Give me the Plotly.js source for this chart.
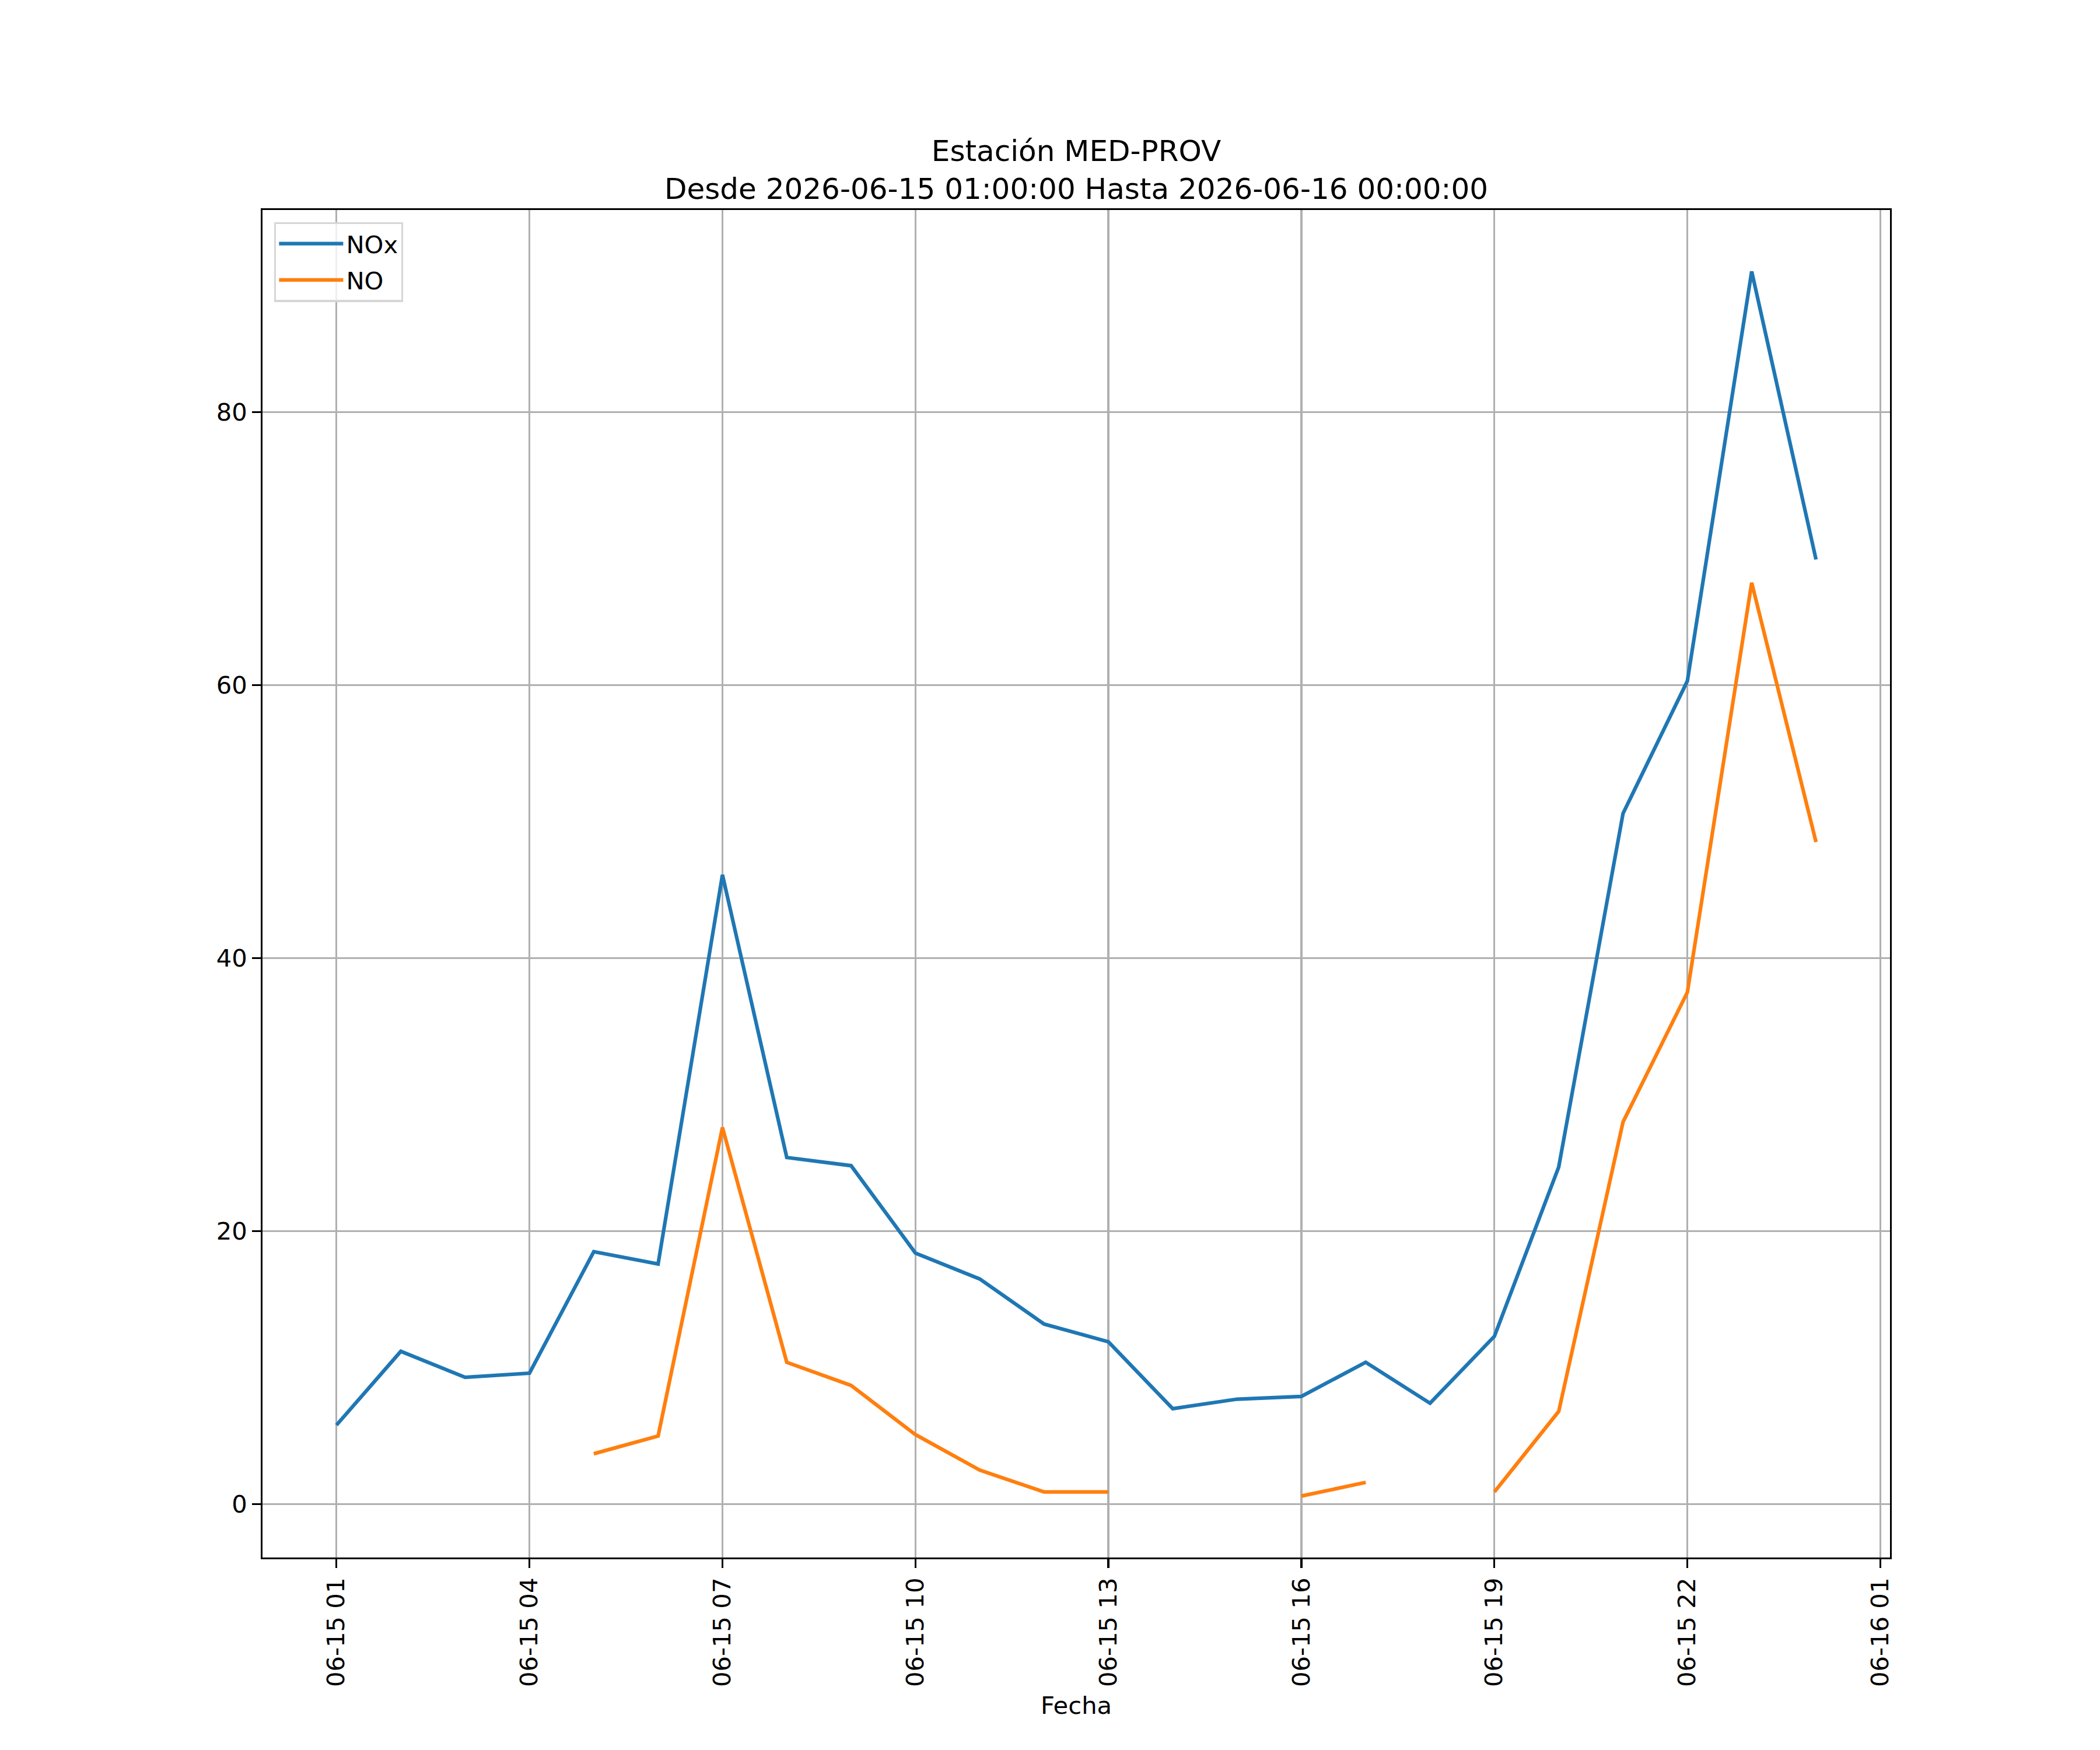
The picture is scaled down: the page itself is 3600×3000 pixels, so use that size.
<!DOCTYPE html>
<html>
<head>
<meta charset="utf-8">
<script src="https://cdn.plot.ly/plotly-3.0.1.min.js"></script>
<style>
  body { margin: 0; background: #fff; }
</style>
</head>
<body>
<div id="line-chart" style="width:3600px;height:3000px;"></div>
<script>
// hourly readings for the station
let fechas = [
    '2026-06-15 01:00', '2026-06-15 02:00', '2026-06-15 03:00', '2026-06-15 04:00',
    '2026-06-15 05:00', '2026-06-15 06:00', '2026-06-15 07:00', '2026-06-15 08:00',
    '2026-06-15 09:00', '2026-06-15 10:00', '2026-06-15 11:00', '2026-06-15 12:00',
    '2026-06-15 13:00', '2026-06-15 14:00', '2026-06-15 15:00', '2026-06-15 16:00',
    '2026-06-15 17:00', '2026-06-15 18:00', '2026-06-15 19:00', '2026-06-15 20:00',
    '2026-06-15 21:00', '2026-06-15 22:00', '2026-06-15 23:00', '2026-06-16 00:00'
];

let nox = [5.8, 11.2, 9.3, 9.6, 18.5, 17.6, 46.1, 25.4, 24.8, 18.4, 16.5, 13.2,
           11.9, 7.0, 7.7, 7.9, 10.4, 7.4, 12.3, 24.7, 50.6, 60.3, 90.3, 69.2];

let no = [null, null, null, null, 3.7, 5.0, 27.6, 10.4, 8.7, 5.1, 2.5, 0.9,
          0.9, null, null, 0.6, 1.6, null, 0.9, 6.8, 28.0, 37.5, 67.5, 48.5];

let titulo = 'Estación MED-PROV<br>Desde 2026-06-15 01:00:00 Hasta 2026-06-16 00:00:00';

let twd_line = document.getElementById('line-chart');

let trace1 = {
    type: 'scatter',
    mode: 'lines',
    name: 'NOx',
    legendgroup: 'a',
    x: fechas,
    y: nox,
    connectgaps: false,
    line: { color: '#1f77b4', width: 6.25 }
};

let trace2 = {
    type: 'scatter',
    mode: 'lines',
    name: 'NO',
    legendgroup: 'b',
    x: fechas,
    y: no,
    connectgaps: false,
    line: { color: '#ff7f0e', width: 6.25 }
};

let axisCommon = {
    showline: true,
    linecolor: '#000000',
    linewidth: 3.3,
    mirror: true,
    showgrid: true,
    gridcolor: '#b0b0b0',
    gridwidth: 3.3,
    zeroline: false,
    ticks: 'outside',
    ticklen: 14.6,
    tickwidth: 3.3,
    tickcolor: '#000000',
    tickfont: { size: 41.7, color: '#000000' }
};

let layout = {
    width: 3600,
    height: 3000,
    paper_bgcolor: '#ffffff',
    plot_bgcolor: '#ffffff',
    font: { family: 'DejaVu Sans', color: '#000000', size: 41.7 },
    margin: { l: 450, r: 360, t: 360, b: 330, autoexpand: false },
    showlegend: true,
    title: {
        text: titulo,
        font: { size: 50, color: '#000000' },
        xref: 'paper',
        x: 0.5,
        xanchor: 'center',
        yref: 'container',
        y: 0.908,
        yanchor: 'middle'
    },
    legend: {
        x: 0.0072,
        y: 0.991,
        xanchor: 'left',
        yanchor: 'top',
        bgcolor: 'rgba(255,255,255,0.8)',
        bordercolor: '#d6d6d6',
        borderwidth: 3.3,
        font: { size: 41.7, color: '#000000' },
        traceorder: 'grouped',
        tracegroupgap: 5,
        itemwidth: 110
    },
    xaxis: Object.assign({}, axisCommon, {
        type: 'date',
        range: ['2026-06-14 23:51:00', '2026-06-16 01:09:00'],
        tick0: '2026-06-15 01:00',
        dtick: 3 * 3600 * 1000,
        tickformat: '%m-%d %H',
        tickangle: -90,
        automargin: false,
        title: { text: 'Fecha', font: { size: 41.7, color: '#000000' }, standoff: 18 }
    }),
    yaxis: Object.assign({}, axisCommon, {
        range: [-3.9, 94.8],
        tickvals: [0, 20, 40, 60, 80],
        automargin: false
    })
};

Plotly.newPlot(twd_line, [trace1, trace2], layout, { staticPlot: true });
</script>
</body>
</html>
